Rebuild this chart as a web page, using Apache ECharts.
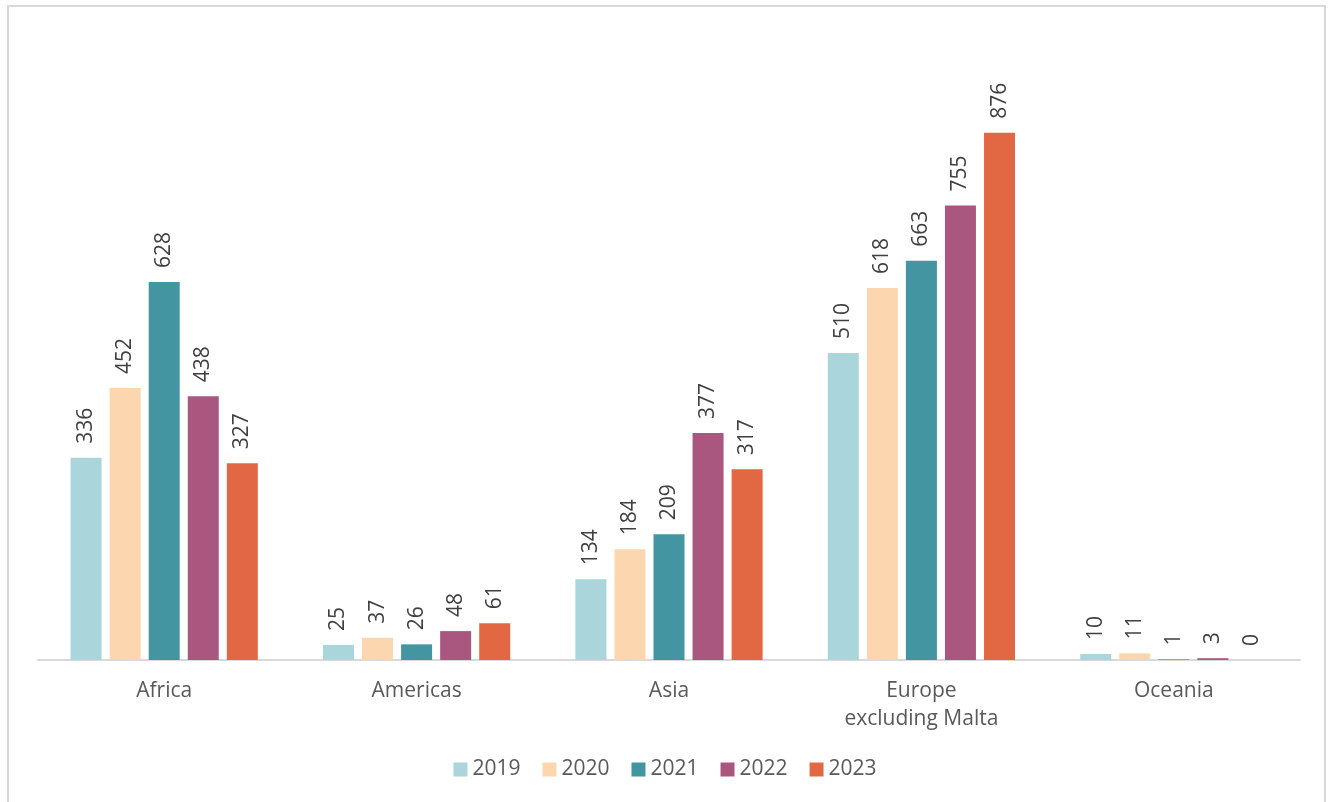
<!DOCTYPE html>
<html>
<head>
<meta charset="utf-8">
<script src="https://cdn.jsdelivr.net/npm/echarts@6/dist/echarts.min.js"></script>
<style>
html,body{margin:0;padding:0;background:#fff;}
#frame{position:absolute;left:7px;top:5px;width:1319px;height:810px;border:2px solid #d9d9d9;box-sizing:border-box;}
#chart{position:absolute;left:0;top:0;width:1330px;height:802px;}
</style>
</head>
<body>
<div id="frame"></div>
<div id="chart"></div>
<script>
const categories = ['Africa', 'Americas', 'Asia', 'Europe\nexcluding Malta', 'Oceania'];
const years = ['2019', '2020', '2021', '2022', '2023'];
const values2019 = [336, 25, 134, 510, 10];
const values2020 = [452, 37, 184, 618, 11];
const values2021 = [628, 26, 209, 663, 1];
const values2022 = [438, 48, 377, 755, 3];
const values2023 = [327, 61, 317, 876, 0];
const colors = ['#a9d5db', '#fbd6ae', '#4395a1', '#a9577f', '#e26843'];

const seriesData = [values2019, values2020, values2021, values2022, values2023];
const font = '"Open Sans", "Noto Sans", sans-serif';

const chart = echarts.init(document.getElementById('chart'), null, {renderer: 'canvas'});
chart.setOption({
  animation: false,
  textStyle: {fontFamily: font},
  grid: {left: 38, right: 30, top: 58, height: 602, containLabel: false},
  legend: {
    bottom: 17, left: 'center',
    itemWidth: 14, itemHeight: 14, itemGap: 22,
    icon: 'rect',
    textStyle: {fontSize: 21, color: '#595959', fontFamily: font},
    data: years
  },
  xAxis: {
    type: 'category',
    data: categories,
    axisLine: {lineStyle: {color: '#d9d9d9', width: 2}},
    axisTick: {show: false},
    axisLabel: {fontSize: 21, color: '#595959', margin: 17, lineHeight: 28, fontFamily: font}
  },
  yAxis: {
    type: 'value', min: 0, max: 1000, interval: 200,
    show: false,
    splitLine: {show: false}
  },
  series: years.map((y, i) => ({
    name: y,
    type: 'bar',
    data: seriesData[i],
    barWidth: 31,
    barGap: '26%',
    itemStyle: {color: colors[i]},
    label: {
      show: true, position: 'top', rotate: 90, align: 'left', verticalAlign: 'middle',
      distance: 14, fontSize: 21, color: '#404040', fontFamily: font
    }
  }))
});
</script>
</body>
</html>
